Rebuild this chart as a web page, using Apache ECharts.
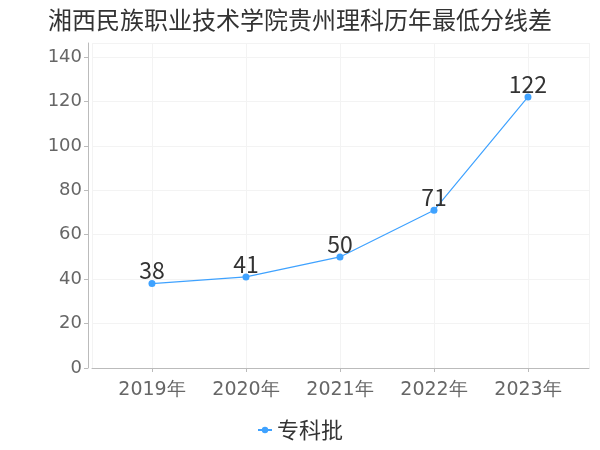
<!DOCTYPE html>
<html>
<head>
<meta charset="utf-8">
<script src="https://cdn.jsdelivr.net/npm/echarts@6/dist/echarts.min.js"></script>
<style>html,body{margin:0;padding:0;background:#fff}#c{width:600px;height:450px}</style>
</head>
<body>
<div id="c"></div>
<script>
const titleText = '湘西民族职业技术学院贵州理科历年最低分线差';
const years = [2019, 2020, 2021, 2022, 2023];
const seriesName = '专科批';
const values = [38, 41, 50, 71, 122];

const chart = echarts.init(document.getElementById('c'));
const lineColor = '#3fa2ff';
chart.setOption({
  animation: false,
  backgroundColor: '#fff',
  title: {
    text: titleText, left: 'center', top: 3,
    textStyle: { fontSize: 24, fontWeight: 'normal', color: '#333', fontFamily: 'Noto Sans CJK SC' }
  },
  legend: {
    bottom: 4, left: 'center', itemWidth: 14, itemHeight: 8,
    textStyle: { fontSize: 22, color: '#333', fontFamily: 'Noto Sans CJK SC' },
    data: [seriesName]
  },
  grid: { left: 92, right: 11, top: 43, bottom: 82, containLabel: false },
  xAxis: {
    type: 'value', min: 2018.362, max: 2023.649, minInterval: 1, maxInterval: 1,
    offset: 4,
    axisLine: { show: true, lineStyle: { color: '#bbb' } },
    axisTick: { show: true, length: 4, lineStyle: { color: '#bbb' } },
    splitLine: { show: true, lineStyle: { color: '#f3f3f3' } },
    axisLabel: { showMinLabel: false, showMaxLabel: false, fontSize: 19, color: '#666', margin: 9,
      fontFamily: 'DejaVu Sans', formatter: v => Math.round(v) + '年' }
  },
  yAxis: {
    type: 'value', min: 0, max: 146.3, interval: 20, offset: 4,
    axisLine: { show: true, lineStyle: { color: '#bbb' } },
    axisTick: { show: true, length: 4, lineStyle: { color: '#bbb' } },
    splitLine: { show: true, lineStyle: { color: '#f3f3f3' } },
    axisLabel: { showMaxLabel: false, fontSize: 18, color: '#666', margin: 6, fontFamily: 'DejaVu Sans' }
  },
  series: [{
    name: seriesName, type: 'line',
    data: years.map((y, i) => [y, values[i]]),
    symbol: 'circle', symbolSize: 7,
    itemStyle: { color: lineColor },
    lineStyle: { width: 1.2, color: lineColor },
    label: { show: true, position: 'top', distance: -2, fontSize: 23, color: '#333', fontFamily: 'Noto Sans CJK SC' }
  }]
});
</script>
</body>
</html>
